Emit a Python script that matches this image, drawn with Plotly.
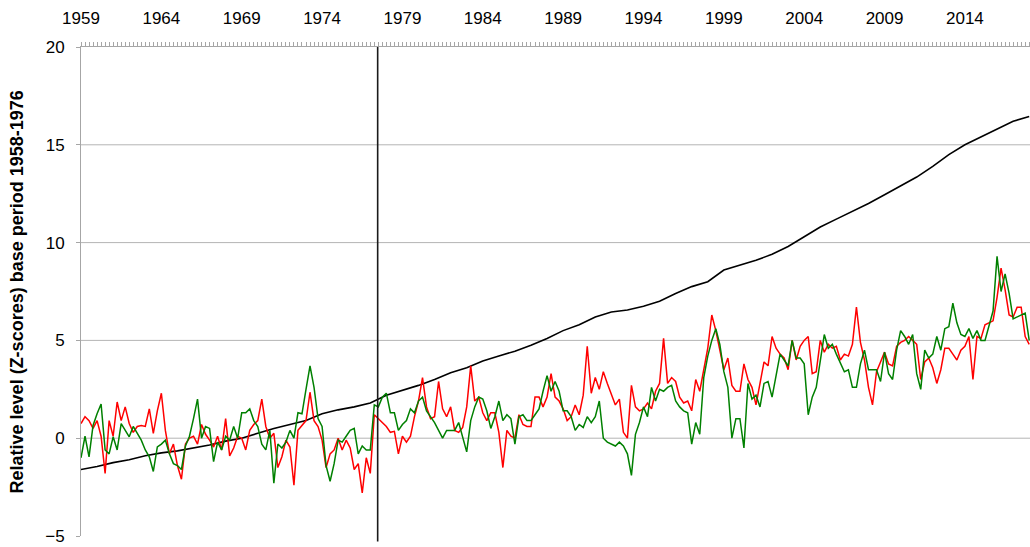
import numpy as np
import plotly.graph_objects as go

# ---- data ----
start_year = 1959.0
step = 0.25  # quarterly samples

red_series = [
    0.75, 1.1, 0.9, 0.5,      # 1959
    0.9, 0.1, -1.8, 0.9,      # 1960
    0.1, 1.85, 0.9, 1.6,      # 1961
    0.75, 0.3, 0.6, 0.65,     # 1962
    0.6, 1.5, 0.25, 1.4,      # 1963
    2.3, 0.4, -0.8, -0.3,     # 1964
    -1.4, -2.1, -0.3, 0.0,    # 1965
    0.1, -0.3, 0.7, 0.2,      # 1966
    -0.1, -0.45, 0.1, -0.6,   # 1967
    1.0, -0.9, -0.5, 0.1,     # 1968
    0.0, -0.6, 0.4, 0.7,      # 1969
    0.9, 2.0, 0.6, 0.0,       # 1970
    0.25, -1.5, -0.95, -0.1,  # 1971
    -0.45, -2.4, 0.4, 0.65,   # 1972
    0.9, 2.35, 0.9, 0.6,      # 1973
    -0.1, -1.5, -0.8, -0.6,   # 1974
    0.0, -0.6, -0.1, -0.5,    # 1975
    -1.6, -1.3, -2.8, -1.0,   # 1976
    -1.8, 1.2, 1.0, 0.8,      # 1977
    0.6, 0.3, 0.35, -0.8,     # 1978
    0.1, -0.2, 0.1, 1.1,      # 1979
    1.9, 3.1, 1.6, 1.0,       # 1980
    1.1, 2.9, 1.5, 1.1,       # 1981
    1.6, 0.4, 0.3, 0.55,      # 1982
    1.6, 3.7, 1.9, 2.1,       # 1983
    1.3, 0.9, 1.3, 1.3,       # 1984
    0.3, -1.5, 0.4, 0.1,      # 1985
    0.0, 1.2, 0.7, 0.6,       # 1986
    0.6, 2.1, 2.1, 1.6,       # 1987
    2.1, 3.3, 2.1, 1.9,       # 1988
    1.5, 0.9, 1.1, 1.7,       # 1989
    1.2, 2.2, 4.7, 2.3,       # 1990
    3.1, 2.5, 3.4, 2.8,       # 1991
    2.2, 1.7, 2.0, 0.3,       # 1992
    0.0, 2.7, 1.6, 1.4,       # 1993
    1.5, 1.8, 1.5, 2.4,       # 1994
    2.8, 5.1, 2.8, 3.1,       # 1995
    2.9, 2.1, 1.8, 1.9,       # 1996
    1.4, 3.0, 2.4, 3.6,       # 1997
    4.6, 6.3, 5.5, 4.5,       # 1998
    3.5, 4.1, 2.7, 2.4,       # 1999
    2.4, 3.8, 3.0, 2.6,       # 2000
    1.7, 2.8, 3.9, 3.7,       # 2001
    5.2, 4.6, 4.3, 4.1,       # 2002
    3.5, 5.0, 4.0, 4.7,       # 2003
    5.0, 5.2, 3.3, 3.4,       # 2004
    5.0, 4.4, 4.8, 4.6,       # 2005
    4.7, 4.0, 4.3, 4.2,       # 2006
    4.8, 6.7, 4.9, 4.0,       # 2007
    2.6, 1.7, 3.4, 3.9,       # 2008
    4.4, 3.8, 3.7, 4.7,       # 2009
    4.9, 5.0, 5.2, 5.0,       # 2010
    4.8, 3.0, 3.9, 4.1,       # 2011
    3.6, 2.8, 3.5, 4.6,       # 2012
    4.6, 4.3, 4.0, 4.5,       # 2013
    4.7, 5.2, 3.0, 5.2,       # 2014
    5.1, 5.8, 5.9, 6.0,       # 2015
    7.2, 8.7, 7.6, 6.3,       # 2016
    6.2, 6.7, 6.7, 5.2,       # 2017
    4.8,                      # 2018
]

green_series = [
    -1.0, 0.1, -0.95, 0.65,   # 1959
    1.25, 1.75, -0.6, -0.8,   # 1960
    0.07, -0.6, 0.75, 0.4,    # 1961
    0.07, 0.6, 0.25, -0.1,    # 1962
    -0.6, -0.95, -1.7, -0.45, # 1963
    -0.3, -0.1, -0.8, -1.3,   # 1964
    -1.4, -1.6, -0.4, 0.1,    # 1965
    1.0, 2.0, 0.0, 0.6,       # 1966
    0.5, -1.2, -0.2, -0.6,    # 1967
    0.1, -0.1, 0.6, 0.0,      # 1968
    1.3, 1.3, 1.5, 0.9,       # 1969
    0.6, -0.3, -0.6, 0.4,     # 1970
    -2.3, -0.3, -0.5, -0.2,   # 1971
    0.4, 0.0, 1.3, 1.25,      # 1972
    2.5, 3.7, 2.6, 1.0,       # 1973
    0.6, -1.4, -2.2, -1.3,    # 1974
    -0.1, -0.2, 0.1, 0.4,     # 1975
    0.5, -0.8, -0.4, -0.6,    # 1976
    -0.6, 1.7, 1.6, 2.1,      # 1977
    2.3, 1.3, 1.3, 0.4,       # 1978
    0.7, 0.9, 1.5, 1.3,       # 1979
    1.9, 2.1, 1.4, 1.1,       # 1980
    0.8, 0.4, 0.0, 0.4,       # 1981
    0.4, 0.4, 0.8, 0.1,       # 1982
    -0.7, 0.9, 1.6, 2.1,      # 1983
    2.0, 1.4, 0.5, 1.1,       # 1984
    1.9, 0.9, 1.2, 1.0,       # 1985
    -0.3, 1.1, 1.2, 0.9,      # 1986
    0.9, 1.2, 1.5, 2.4,       # 1987
    3.2, 2.4, 2.9, 2.4,       # 1988
    1.4, 1.4, 1.1, 0.4,       # 1989
    0.7, 0.55, 1.1, 0.8,      # 1990
    1.1, 1.9, 0.0, -0.2,      # 1991
    -0.3, -0.4, -0.2, -0.4,   # 1992
    -0.8, -1.9, 0.2, 0.8,     # 1993
    1.6, 1.1, 2.6, 1.9,       # 1994
    2.5, 2.4, 2.6, 2.7,       # 1995
    1.9, 1.6, 1.4, 1.3,       # 1996
    -0.3, 0.8, 0.2, 3.1,      # 1997
    4.2, 5.0, 5.6, 4.8,       # 1998
    3.4, 2.6, 0.0, 1.0,       # 1999
    1.0, -0.5, 2.8, 2.0,      # 2000
    2.2, 1.6, 2.8, 2.9,       # 2001
    2.1, 3.3, 4.3, 4.0,       # 2002
    3.7, 5.0, 4.1, 4.1,       # 2003
    3.8, 1.2, 2.1, 2.6,       # 2004
    3.9, 5.3, 4.6, 4.8,       # 2005
    4.3, 3.8, 3.4, 3.5,       # 2006
    2.6, 2.6, 3.8, 4.5,       # 2007
    3.5, 3.5, 3.5, 2.9,       # 2008
    4.4, 3.3, 3.0, 4.5,       # 2009
    5.5, 5.2, 4.8, 5.3,       # 2010
    3.3, 2.5, 4.5, 4.1,       # 2011
    4.3, 5.2, 4.5, 5.6,       # 2012
    5.7, 6.9, 5.9, 5.3,       # 2013
    5.2, 5.6, 5.1, 5.5,       # 2014
    5.0, 5.0, 5.7, 6.5,       # 2015
    9.3, 7.5, 8.4, 7.4,       # 2016
    6.1, 6.2, 6.3, 6.4,       # 2017
    5.0,                      # 2018
]

black_years = list(range(1959, 2019))
black_series = [
    -1.6, -1.45, -1.25, -1.1, -0.9, -0.75, -0.65, -0.5, -0.35, -0.15,   # 1959-1968
    0.0, 0.25, 0.5, 0.7, 0.9, 1.25, 1.45, 1.6, 1.8, 2.2,                # 1969-1978
    2.45, 2.7, 3.0, 3.35, 3.6, 3.95, 4.2, 4.45, 4.75, 5.1,              # 1979-1988
    5.5, 5.8, 6.2, 6.45, 6.55, 6.75, 7.0, 7.4, 7.75, 8.0,               # 1989-1998
    8.6, 8.85, 9.1, 9.4, 9.8, 10.3, 10.8, 11.2, 11.6, 12.0,             # 1999-2008
    12.45, 12.9, 13.35, 13.9, 14.5, 15.0, 15.4, 15.8, 16.2, 16.45,      # 2009-2018
]

label_years = [1959, 1964, 1969, 1974, 1979, 1984, 1989, 1994, 1999, 2004, 2009, 2014]
label_text = [str(y) for y in label_years]
y_ticks = [-5, 0, 5, 10, 15, 20]
grid_values = [0, 5, 10, 15]
divider_year = 1977.46
x_range = [1959.0, 2018.05]
y_title = "Relative level (Z-scores) base period 1958-1976"

q_years = start_year + step * np.arange(len(red_series))

FONT = "Arial, Liberation Sans, sans-serif"
AXIS_GRAY = "#a6a6a6"

fig = go.Figure()
fig.add_trace(go.Scatter(x=black_years, y=black_series, mode="lines",
                         line=dict(color="black", width=1.6), hoverinfo="skip"))
fig.add_trace(go.Scatter(x=q_years, y=red_series, mode="lines",
                         line=dict(color="#ff0000", width=1.5)))
fig.add_trace(go.Scatter(x=q_years, y=green_series, mode="lines",
                         line=dict(color="#008000", width=1.5)))

for v in grid_values:
    fig.add_hline(y=v, line=dict(color="#b4b4b4", width=1), layer="below")

fig.add_shape(type="line", xref="x", yref="paper", x0=divider_year, x1=divider_year,
              y0=-0.011, y1=1.0, line=dict(color="#1a1a1a", width=1.6))

fig.add_annotation(text="<b>" + y_title + "</b>", xref="paper", yref="paper",
                   x=-0.0675, y=0.5, xanchor="center", yanchor="middle",
                   textangle=-90, showarrow=False,
                   font=dict(family=FONT, size=18, color="black"))

fig.update_layout(
    width=1030, height=547,
    margin=dict(l=81, r=0, t=47, b=11, autoexpand=False),
    paper_bgcolor="white", plot_bgcolor="white",
    showlegend=False,
    xaxis=dict(
        side="top", range=x_range, tickmode="array", tickvals=label_years, ticktext=label_text,
        ticks="outside", ticklen=4, tickcolor=AXIS_GRAY, tickwidth=1,
        showline=True, linecolor=AXIS_GRAY, linewidth=1, mirror=False,
        showgrid=False, zeroline=False, automargin=False,
        tickfont=dict(family=FONT, size=17, color="black"),
        ticklabelstandoff=11,
        minor=dict(tickmode="linear", tick0=start_year, dtick=step, ticks="outside",
                   ticklen=4, tickcolor=AXIS_GRAY, tickwidth=1, showgrid=False),
    ),
    yaxis=dict(
        range=[-5, 20], tickmode="array", tickvals=y_ticks,
        ticks="outside", ticklen=4, tickcolor=AXIS_GRAY,
        showline=True, linecolor=AXIS_GRAY, linewidth=1,
        showgrid=False, zeroline=False, automargin=False,
        tickfont=dict(family=FONT, size=17, color="black"),
        ticklabelstandoff=8,
    ),
)

fig.write_html("out.html",
               config={"displayModeBar": False, "staticPlot": True},
               post_script="document.body.style.margin='0';document.body.style.overflow='hidden';")
